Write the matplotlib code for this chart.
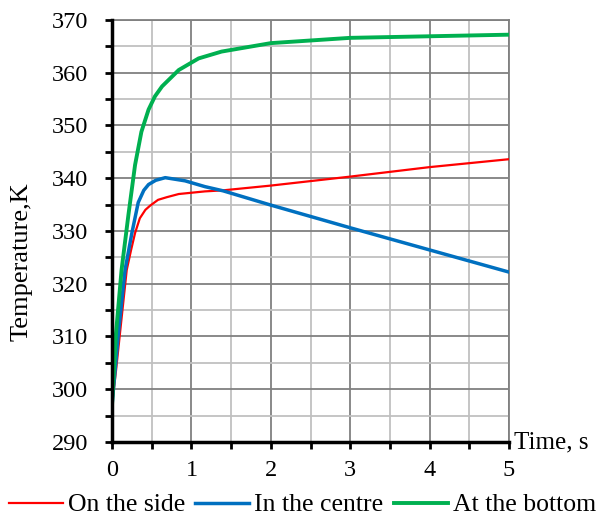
import numpy as np
import matplotlib.pyplot as plt
from matplotlib.ticker import MultipleLocator

plt.rcParams['font.family'] = ['Liberation Serif', 'DejaVu Serif']

# --- DATA ---
t_side = [0, 0.05, 0.10, 0.185, 0.24, 0.29, 0.35, 0.42, 0.48, 0.58, 0.69, 0.84, 1.17, 1.4, 2.0, 3.0, 4.0, 5.0]
T_side = [297, 303.5, 310.6, 322.6, 326.4, 329.6, 332.4, 334.0, 334.8, 335.9, 336.4, 337.0, 337.5, 337.7, 338.6, 340.3, 342.1, 343.6]

t_centre = [0, 0.08, 0.164, 0.25, 0.33, 0.40, 0.46, 0.55, 0.67, 0.92, 1.17, 1.40, 2.0, 3.0, 4.0, 5.0]
T_centre = [297, 310.6, 322.6, 329.6, 335.4, 337.7, 338.8, 339.6, 340.1, 339.5, 338.4, 337.6, 334.9, 330.6, 326.4, 322.2]

t_bottom = [0, 0.05, 0.12, 0.206, 0.29, 0.37, 0.46, 0.54, 0.63, 0.84, 1.09, 1.38, 2.0, 3.0, 4.0, 5.0]
T_bottom = [297, 310.6, 322.6, 333.0, 342.5, 348.8, 353.0, 355.5, 357.4, 360.5, 362.7, 364.0, 365.6, 366.6, 366.9, 367.2]

# --- PLOTTING ---
fig = plt.figure(figsize=(6.01, 5.24), dpi=100)
ax = fig.add_axes([0.1864, 0.1565, 0.6606, 0.8055])

ax.plot(t_side, T_side, color='#FF0000', lw=1.6, label='On the side', zorder=3)
ax.plot(t_centre, T_centre, color='#0070C0', lw=2.5, label='In the centre', zorder=4)
ax.plot(t_bottom, T_bottom, color='#00B050', lw=2.8, label='At the bottom', zorder=5)

ax.set_xlim(0, 5)
ax.set_ylim(290, 370)
ax.xaxis.set_major_locator(MultipleLocator(1))
ax.xaxis.set_minor_locator(MultipleLocator(0.5))
ax.yaxis.set_major_locator(MultipleLocator(10))
ax.yaxis.set_minor_locator(MultipleLocator(5))

ax.grid(True, which='major', color='#808080', lw=1.3)
ax.grid(True, which='minor', color='#C0C0C0', lw=1.3)
ax.set_axisbelow(True)

for side in ['top', 'right']:
    ax.spines[side].set_color('#808080')
    ax.spines[side].set_linewidth(1.3)
for side in ['left', 'bottom']:
    ax.spines[side].set_color('black')
    ax.spines[side].set_linewidth(2.5)
    ax.spines[side].set_zorder(6)

ax.tick_params(which='both', direction='out', length=5, width=2, color='black', labelsize=17.5)
ax.tick_params(axis='y', which='both', pad=12)
ax.tick_params(axis='x', which='both', pad=8)

ax.set_ylabel('Temperature,K', fontsize=19, va='center')
ax.yaxis.set_label_coords(-0.227, 0.428)
ax.text(1.013, 0.0, 'Time, s', transform=ax.transAxes, fontsize=18,
        ha='left', va='center')

fig.legend(loc='center', bbox_to_anchor=(0.503, 1 - 505 / 524), ncol=3, frameon=False,
           fontsize=18.5, handlelength=2.1, handletextpad=0.2, columnspacing=0.4,
           borderpad=0, borderaxespad=0)

plt.savefig('out.png', dpi=100)
